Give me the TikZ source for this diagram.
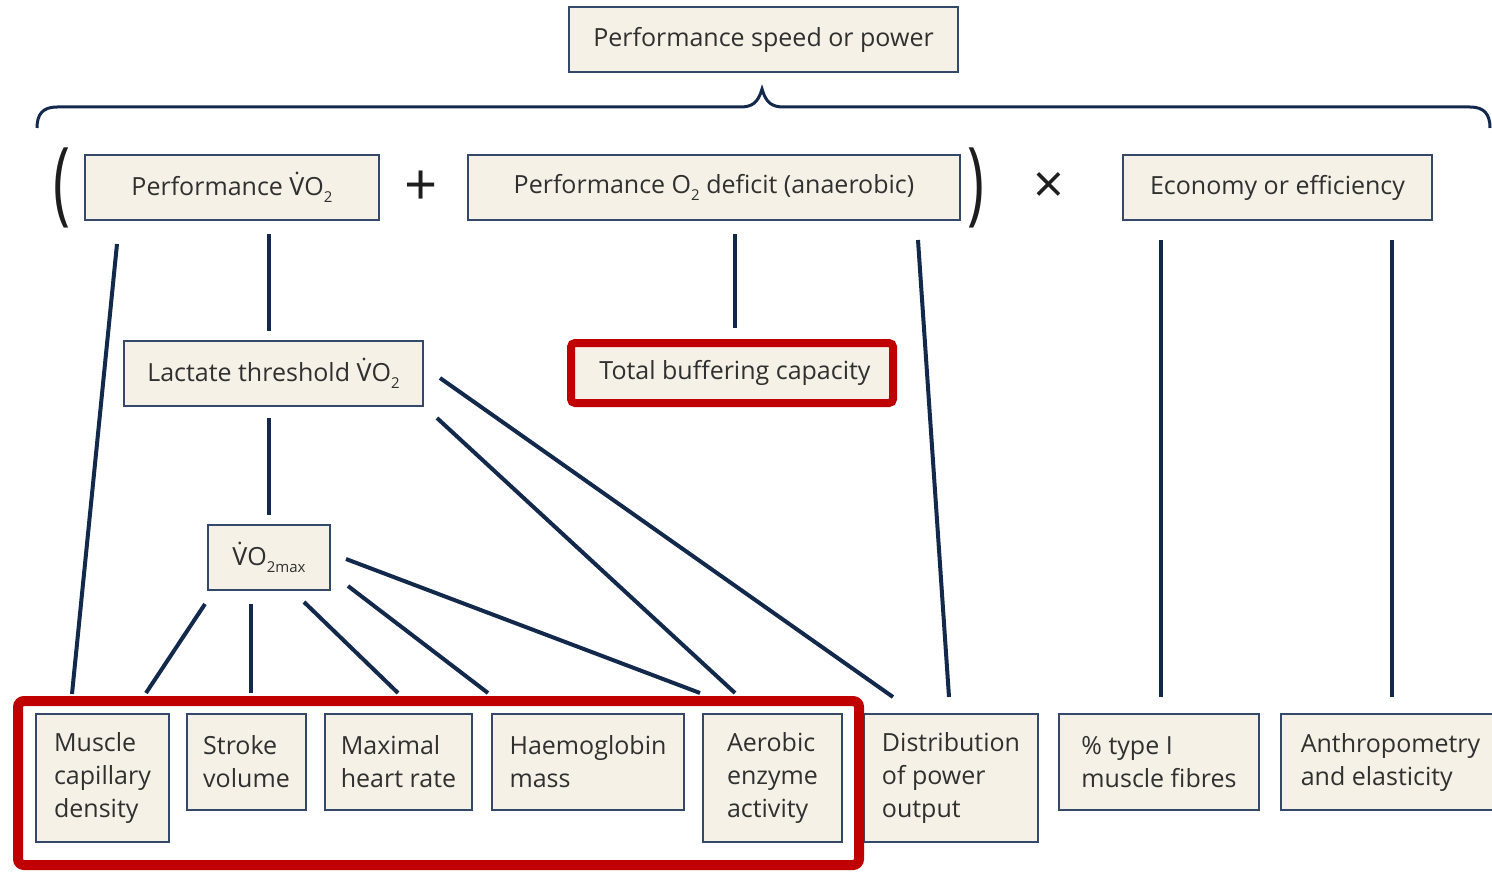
\documentclass[tikz,border=0pt]{standalone}
\usepackage{fontspec}
\setmainfont{Open Sans}
\newfontfamily\notosans{Noto Sans}
\usetikzlibrary{calc}
\definecolor{navy}{HTML}{13294B}
\definecolor{bordc}{HTML}{34496A}
\definecolor{beige}{HTML}{F6F1E6}
\definecolor{redc}{HTML}{C00000}
\definecolor{txt}{HTML}{303030}
\definecolor{parc}{HTML}{1E1E1E}
\newcommand\Vdt{{\notosans\.{V}}}
\newcommand\sbs[1]{\raisebox{-.28em}{\fontsize{15}{15}\selectfont #1}}
\begin{document}
\begin{tikzpicture}[x=1pt,y=-1pt,
  box/.style={draw=bordc, line width=2pt, fill=beige, text=txt, inner sep=0pt, align=left, font=\fontsize{25}{33}\selectfont},
  link/.style={draw=navy, line width=4pt},
  sym/.style={inner sep=0pt, text=parc},
  bracepath/.style={draw=navy, line width=3pt},
  redframe/.style={draw=redc, line width=10pt, rounded corners=6pt},
]
\useasboundingbox (0,0) rectangle (1492,872);

% top row
\node[box, minimum width=389pt, minimum height=65pt] (top) at (763.5,39.5) {Performance speed or power};

% brace
\draw[bracepath] (37,128) .. controls (37,114) and (43,107) .. (57,107) -- (740,107)
  .. controls (752,107) and (758,103) .. (762,89)
  .. controls (766,103) and (772,107) .. (784,107) -- (1470,107)
  .. controls (1484,107) and (1490,114) .. (1490,128);

% equation row
\node[sym] (lp) at (62,188) {\scalebox{0.62}[1]{\fontsize{92}{92}\selectfont (}};
\node[box, minimum width=294pt, minimum height=65pt] (pvo) at (232,187.5) {Performance \Vdt O\sbs{2}};
\node[sym, font=\fontsize{58}{58}\selectfont] (plus) at (421,188) {+};
\node[box, minimum width=492pt, minimum height=65pt] (o2d) at (714,187.5) {Performance O\sbs{2} deficit (anaerobic)};
\node[sym] (rp) at (976,188) {\scalebox{0.62}[1]{\fontsize{92}{92}\selectfont )}};
\node[sym, font=\fontsize{54}{54}\selectfont] (times) at (1049,188) {×};
\node[box, minimum width=309pt, minimum height=65pt] (eco) at (1277.5,187.5) {Economy or efficiency};

% middle
\node[box, minimum width=299pt, minimum height=65pt] (lt) at (273.5,373.5) {Lactate threshold \Vdt O\sbs{2}};
\node[box, draw=redc, line width=8pt, rounded corners=4pt, minimum width=322pt, minimum height=60pt] (tbc) at (732,373) {\hspace*{6pt}Total buffering capacity};
\node[box, minimum width=122pt, minimum height=65pt] (vmx) at (269,557.5) {\Vdt O\sbs{2max}};

% bottom
\node[box, minimum width=133pt, minimum height=128pt] (mcd) at (102.5,778) {Muscle\\capillary\\density};
\node[box, minimum width=119pt, minimum height=96pt] (sv) at (246.5,762) {Stroke\\volume};
\node[box, minimum width=147pt, minimum height=96pt] (mhr) at (398.5,762) {Maximal\\heart rate};
\node[box, minimum width=192pt, minimum height=96pt] (hm) at (588,762) {Haemoglobin\\mass};
\node[box, minimum width=139pt, minimum height=128pt] (aea) at (772.5,778) {Aerobic\\enzyme\\activity};
\node[box, minimum width=174pt, minimum height=128pt] (dpo) at (951,778) {Distribution\\of power\\output};
\node[box, minimum width=200pt, minimum height=96pt] (t1) at (1159,762) {\% type I\\muscle fibres};
\node[box, minimum width=219pt, minimum height=96pt] (ant) at (1390.5,762) {Anthropometry\\and elasticity};

\draw[redframe] (18,701) rectangle (859,865);

% links
\draw[link] ($(pvo.south)+(-115,23)$) -- ($(mcd.north)+(-30.5,-19)$);
\draw[link] ($(pvo.south)+(37,13)$) -- ($(lt.north)+(-4.5,-9)$);
\draw[link] ($(lt.south)+(-4.5,11)$) -- ($(vmx.north)+(0,-9)$);
\draw[link] ($(lt.east)+(16,4.5)$) -- ($(dpo.north)+(-58,-16)$);
\draw[link] ($(lt.south east)+(13,11)$) -- ($(aea.north)+(-37.5,-20)$);
\draw[link] ($(o2d.south)+(21,13)$) -- ($(tbc.north)+(3,-11)$);
\draw[link] ($(o2d.south)+(204,19)$) -- ($(dpo.north)+(-2,-16)$);
\draw[link] ($(eco.south)+(-116.5,19)$) -- ($(t1.north)+(2,-16)$);
\draw[link] ($(eco.south)+(114.5,19)$) -- ($(ant.north)+(1.5,-16)$);
\draw[link] ($(vmx.south)+(-64,13)$) -- ($(mcd.north)+(43.5,-20)$);
\draw[link] ($(vmx.south)+(-18,13)$) -- ($(sv.north)+(4.5,-20)$);
\draw[link] ($(vmx.south)+(35,11)$) -- ($(mhr.north)+(-0.5,-20)$);
\draw[link] ($(vmx.east)+(17,28.5)$) -- ($(hm.north)+(-100,-20)$);
\draw[link] ($(vmx.east)+(15,1.5)$) -- ($(aea.north)+(-72.5,-20)$);
\end{tikzpicture}
\end{document}
